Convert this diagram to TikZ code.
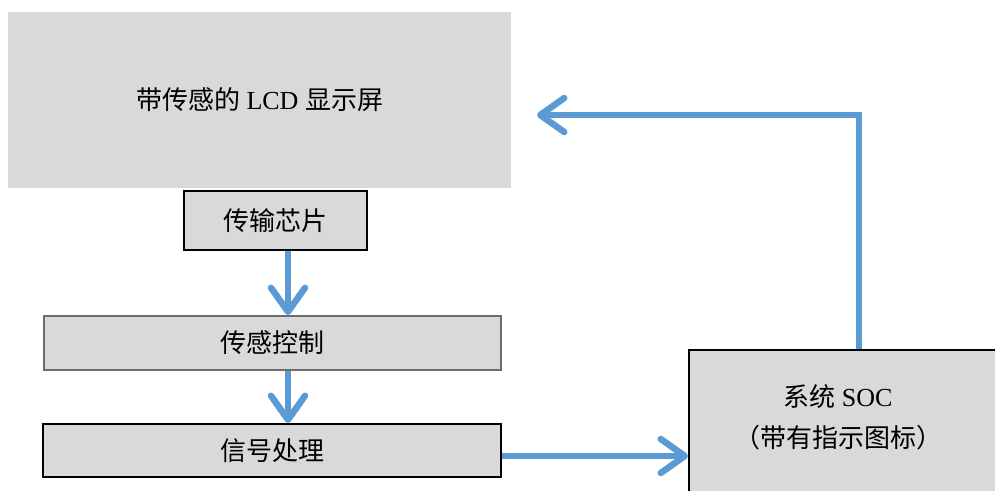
\documentclass[tikz,border=0pt]{standalone}
\usepackage{fontspec}
\setmainfont{Liberation Serif}
\newfontfamily\cjk{Noto Sans CJK SC}
\usetikzlibrary{arrows.meta}
\definecolor{boxgray}{HTML}{D9D9D9}
\definecolor{arrowblue}{HTML}{5B9BD5}
\begin{document}
\begin{tikzpicture}[x=1pt,y=-1pt,
  txt/.style={font=\fontsize{26}{41}\selectfont},
  box/.style={rectangle, fill=boxgray, inner sep=0pt, txt},
  blackbox/.style={box, draw=black, line width=2pt},
  graybox/.style={box, draw=gray!85!black, line width=2pt},
  arr/.style={draw=arrowblue, line width=6.5pt, line join=miter,
    -{Straight Barb[length=24pt,width=34pt,line cap=round,line join=round]}}
]
\useasboundingbox (0,0) rectangle (995,490);
\clip (0,0) rectangle (995,490);
\node[box, minimum width=503pt, minimum height=176pt] (lcd) at (259.5,100)
  {{\cjk 带传感的} LCD {\cjk 显示屏}};
\node[blackbox, minimum width=183pt, minimum height=59pt] (tx) at (275.5,220.5)
  {\cjk 传输芯片};
\node[graybox, minimum width=457pt, minimum height=54pt] (ctrl) at (272.5,343)
  {\cjk 传感控制};
\node[blackbox, minimum width=458pt, minimum height=53pt] (sig) at (272,450.5)
  {\cjk 信号处理};
\node[blackbox, minimum width=320pt, minimum height=160pt] (soc) at (849,430) {};
\node[txt, align=center, inner sep=0pt] (soctext) at (838,417)
  {{\cjk 系统} SOC\\{\cjk （带有指示图标）}};
\coordinate (lcdin) at (537,115);
\draw[arr] ([xshift=12.5pt]tx.south) -- ([xshift=12.5pt]tx.south |- ctrl.north);
\draw[arr] ([xshift=15.5pt]ctrl.south) -- ([xshift=15.5pt]ctrl.south |- sig.north);
\draw[arr] ([yshift=-5.5pt]sig.east) -- ([yshift=-5.5pt]sig.east -| soc.west);
\draw[arr] ([xshift=10pt]soc.north) |- (lcdin);
\end{tikzpicture}
\end{document}
